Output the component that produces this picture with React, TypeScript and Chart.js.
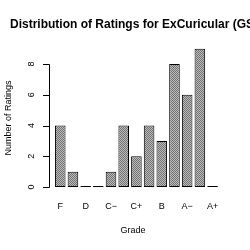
import React, { useEffect, useRef } from "react";
import { Chart, registerables } from "chart.js";
Chart.register(...registerables);

const grades = ["F", "D−", "D", "D+", "C−", "C", "C+", "B−", "B", "B+", "A−", "A", "A+"];
const counts = [4, 1, 0, 0, 1, 4, 2, 4, 3, 8, 6, 9, 0];
const yTicks = [0, 2, 4, 6, 8];
const titleText = "Distribution of Ratings for ExCuricular (GSB)";
const xTitle = "Grade";
const yTitle = "Number of Ratings";

function makePattern(): CanvasPattern | string {
  const c = document.createElement("canvas");
  c.width = 2;
  c.height = 2;
  const g = c.getContext("2d");
  if (!g) return "#999";
  g.fillStyle = "#bdbdbd";
  g.fillRect(0, 0, 2, 2);
  g.fillStyle = "#707070";
  g.fillRect(0, 0, 1, 1);
  g.fillRect(1, 1, 1, 1);
  const p = g.createPattern(c, "repeat");
  return p || "#999";
}

const axesPlugin = {
  id: "rAxes",
  afterDraw(chart: any) {
    const ctx = chart.ctx;
    const xs = chart.scales.x;
    const ys = chart.scales.y;
    ctx.save();
    ctx.strokeStyle = "#000";
    ctx.fillStyle = "#000";
    ctx.lineWidth = 1;
    const axX = 49.5;
    const y0 = Math.round(ys.getPixelForValue(yTicks[0])) + 0.5;
    const y1 = Math.round(ys.getPixelForValue(yTicks[yTicks.length - 1])) + 0.5;
    ctx.beginPath();
    ctx.moveTo(axX, y0);
    ctx.lineTo(axX, y1);
    yTicks.forEach((t) => {
      const py = Math.round(ys.getPixelForValue(t)) + 0.5;
      ctx.moveTo(axX, py);
      ctx.lineTo(43, py);
    });
    ctx.stroke();

    ctx.font = "9px 'Liberation Sans', Arial, sans-serif";
    ctx.textAlign = "center";
    ctx.textBaseline = "middle";
    yTicks.forEach((t) => {
      const py = ys.getPixelForValue(t);
      ctx.save();
      ctx.translate(32, py);
      ctx.rotate(-Math.PI / 2);
      ctx.fillText(String(t), 0, 0);
      ctx.restore();
    });
    grades.forEach((g, i) => {
      if (i % 2 === 0) {
        ctx.fillText(g, xs.getPixelForValue(i), 206.5);
      }
    });
    ctx.fillText(xTitle, 133, 231);
    ctx.save();
    ctx.translate(8.5, 118);
    ctx.rotate(-Math.PI / 2);
    ctx.fillText(yTitle, 0, 0);
    ctx.restore();

    ctx.font = "bold 12px 'Liberation Sans', Arial, sans-serif";
    ctx.textAlign = "left";
    ctx.fillText(titleText, 10, 25);
    ctx.restore();
  },
};

export default function App() {
  const ref = useRef<HTMLCanvasElement>(null);
  useEffect(() => {
    if (!ref.current) return;
    const chart = new Chart(ref.current, {
      type: "bar",
      data: {
        labels: grades,
        datasets: [
          {
            data: counts,
            backgroundColor: makePattern() as any,
            borderColor: "#000",
            borderWidth: 1,
            borderSkipped: false,
            minBarLength: 1,
            barPercentage: 0.833,
            categoryPercentage: 1,
          },
        ],
      },
      options: {
        responsive: false,
        animation: false,
        layout: { padding: { left: 53.9, right: 31.1, top: 33.25, bottom: 63 } },
        plugins: { legend: { display: false }, tooltip: { enabled: false }, title: { display: false } },
        scales: {
          x: { display: false, offset: true },
          y: { display: false, min: 0, max: 10 },
        },
      },
      plugins: [axesPlugin],
    });
    return () => chart.destroy();
  }, []);
  return (
    <div style={{ position: "absolute", left: 0, top: 0, width: 250, height: 250, background: "#fff" }}>
      <canvas ref={ref} width={250} height={250} />
    </div>
  );
}
